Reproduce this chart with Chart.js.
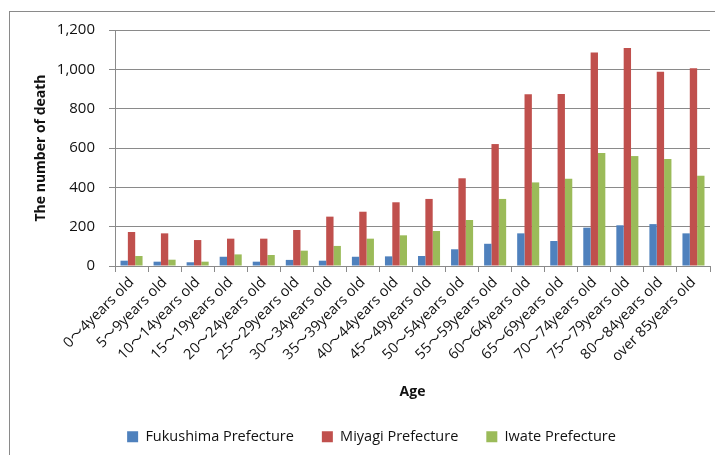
<!DOCTYPE html>
<html>
<head>
<meta charset="utf-8">
<script src="https://cdn.jsdelivr.net/npm/chart.js@4/dist/chart.umd.min.js"></script>
<style>
  html, body { margin: 0; padding: 0; background: #fff; }
  canvas { display: block; }
</style>
</head>
<body>
<canvas id="chart" width="715" height="455"></canvas>
<script>
// Age groups on the category axis
const ageGroups = [
  '0～4years old', '5～9years old', '10～14years old', '15～19years old',
  '20～24years old', '25～29years old', '30～34years old', '35～39years old',
  '40～44years old', '45～49years old', '50～54years old', '55～59years old',
  '60～64years old', '65～69years old', '70～74years old', '75～79years old',
  '80～84years old', 'over 85years old'
];

// Number of deaths per age group, by prefecture
const fukushima = [27, 22, 19, 47, 22, 31, 27, 47, 49, 51, 85, 113, 166, 127, 195, 207, 213, 166];
const miyagi    = [173, 166, 132, 139, 139, 183, 251, 276, 324, 341, 446, 620, 873, 874, 1086, 1108, 988, 1005];
const iwate     = [51, 32, 22, 59, 56, 78, 102, 139, 156, 178, 234, 341, 425, 444, 574, 559, 544, 459];

// Value axis range and step
const yMin = 0;
const yMax = 1200;
const yStep = 200;

const FONT = "'Open Sans', 'Noto Sans CJK JP', sans-serif";
const GRID = '#8a8a8a';
const TEXT = '#111111';

// White background and the thin frame around the chart area
const framePlugin = {
  id: 'frame',
  beforeDraw(chart) {
    const ctx = chart.ctx;
    ctx.save();
    ctx.fillStyle = '#ffffff';
    ctx.fillRect(0, 0, chart.width, chart.height);
    ctx.strokeStyle = '#8a8a8a';
    ctx.lineWidth = 1;
    ctx.strokeRect(9.5, 11.5, 780, 520);
    ctx.restore();
  }
};

new Chart(document.getElementById('chart'), {
  type: 'bar',
  data: {
    labels: ageGroups,
    datasets: [
      { label: 'Fukushima Prefecture', data: fukushima, backgroundColor: '#4F81BD' },
      { label: 'Miyagi Prefecture',    data: miyagi,    backgroundColor: '#C0504D' },
      { label: 'Iwate Prefecture',     data: iwate,     backgroundColor: '#9BBB59' }
    ]
  },
  options: {
    responsive: false,
    devicePixelRatio: 1,
    animation: false,
    layout: { padding: { left: 33, right: 5, top: 30, bottom: 1 } },
    datasets: {
      bar: { categoryPercentage: 0.667, barPercentage: 1.0, borderWidth: 0 }
    },
    plugins: {
      legend: {
        position: 'bottom',
        labels: {
          boxWidth: 11,
          boxHeight: 11,
          padding: 28,
          color: TEXT,
          font: { family: FONT, size: 14.5 }
        }
      },
      tooltip: { enabled: false }
    },
    scales: {
      x: {
        grid: {
          offset: true,
          drawOnChartArea: false,
          drawTicks: true,
          tickLength: 6,
          color: GRID
        },
        border: { color: GRID },
        ticks: {
          autoSkip: false,
          minRotation: 45,
          maxRotation: 45,
          padding: 2,
          color: TEXT,
          font: { family: FONT, size: 14.5 }
        },
        title: {
          display: true,
          text: 'Age',
          color: TEXT,
          font: { family: FONT, size: 14, weight: 'bold' },
          padding: { top: 0, bottom: 1 }
        },
        afterFit(scale) { scale.height = 135.5; }
      },
      y: {
        min: yMin,
        max: yMax,
        grid: { color: GRID, tickLength: 6, drawTicks: true },
        border: { color: GRID },
        ticks: {
          stepSize: yStep,
          padding: 14,
          color: TEXT,
          font: { family: FONT, size: 15 },
          callback: (v) => Number(v).toLocaleString('en-US')
        },
        title: {
          display: true,
          text: 'The number of death',
          color: TEXT,
          font: { family: FONT, size: 14, weight: 'bold' },
          padding: { top: 0, bottom: 0 }
        },
        afterFit(scale) { scale.width = 82; }
      }
    }
  },
  plugins: [framePlugin]
});
</script>
</body>
</html>
